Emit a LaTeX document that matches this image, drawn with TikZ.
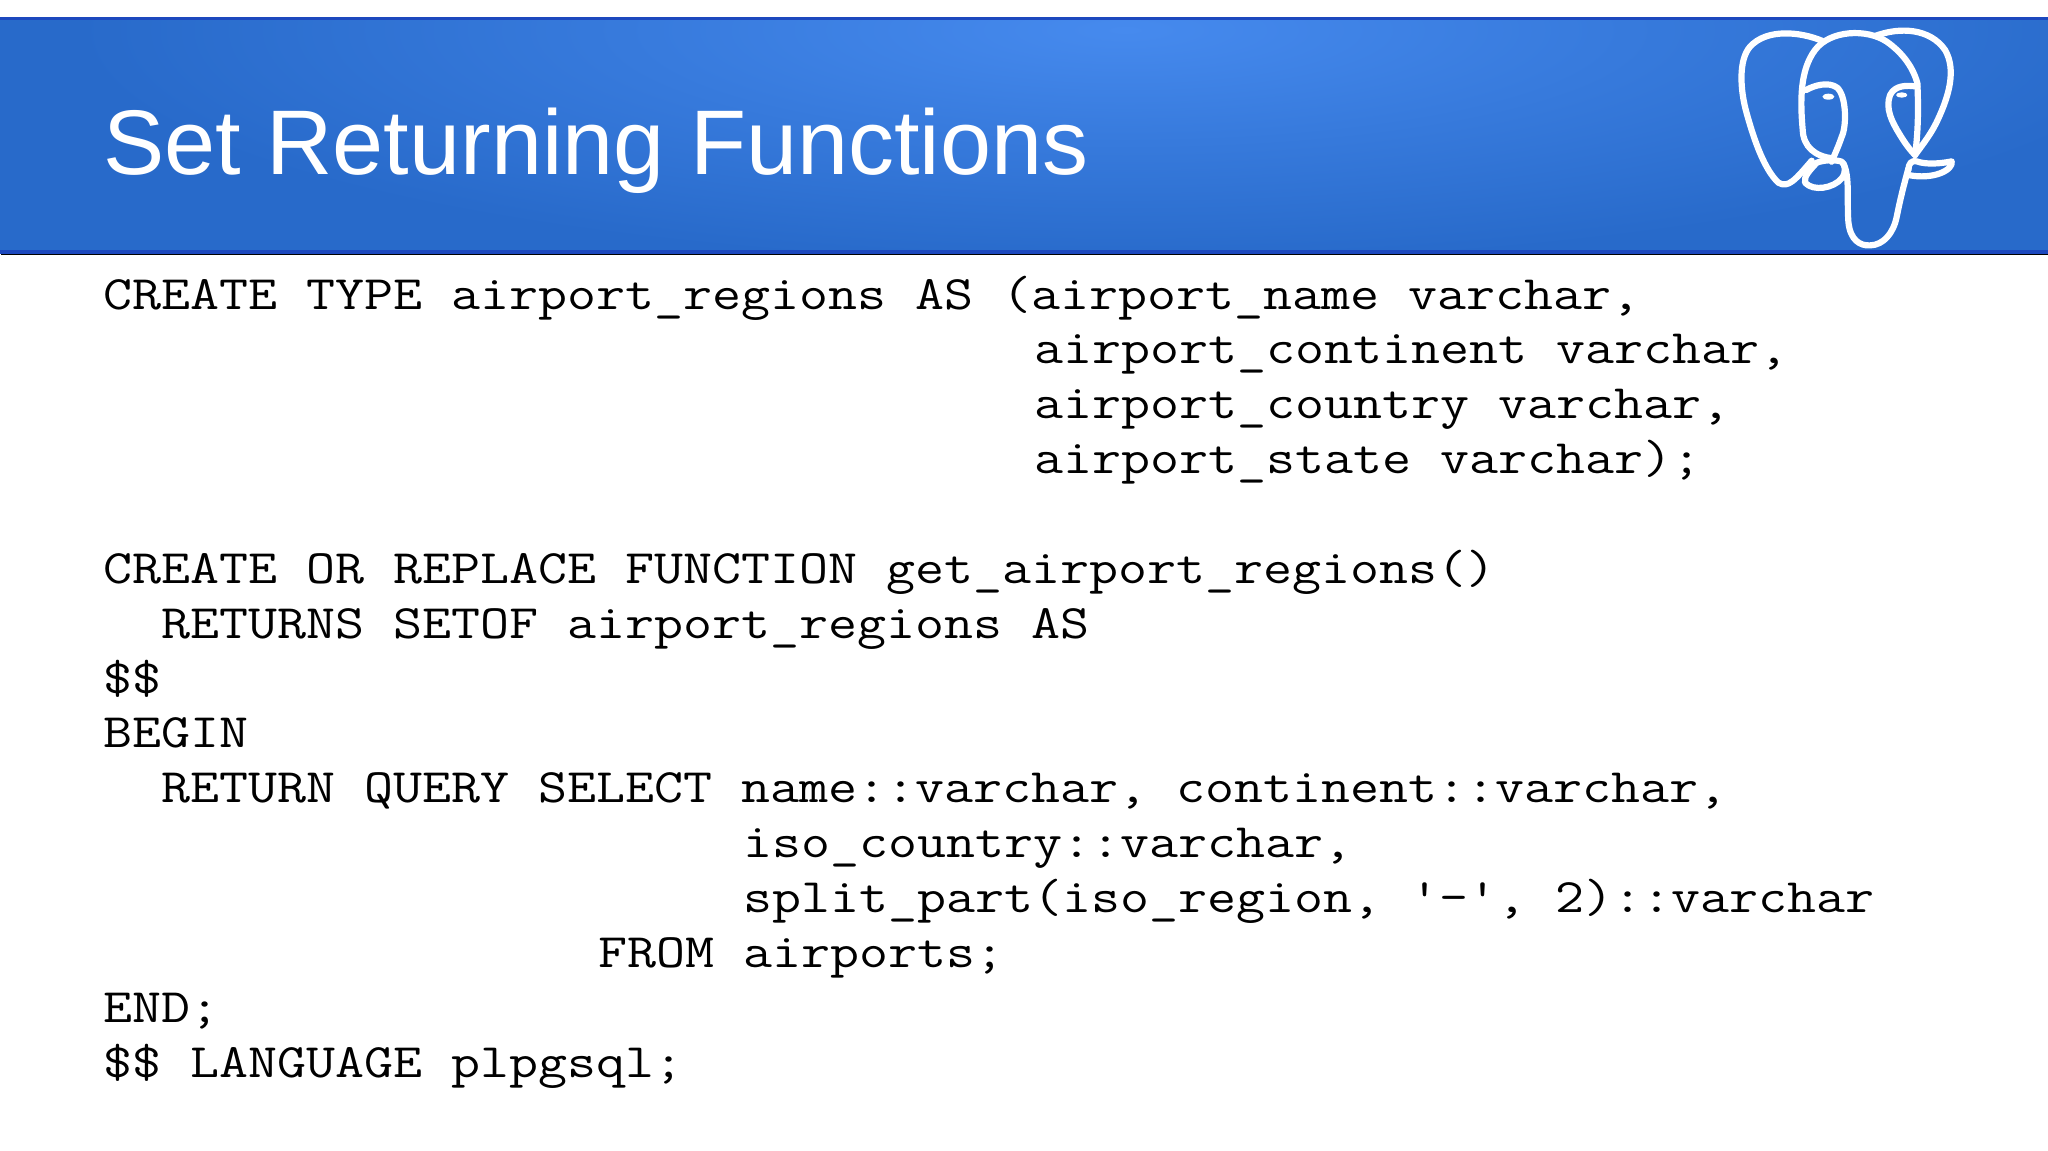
\documentclass[tikz,border=0pt]{standalone}
\usepackage{fontspec}
\setmainfont{Liberation Sans}
\setmonofont[FakeStretch=1.173]{Latin Modern Mono}
\usepackage{xcolor}
\definecolor{bannerout}{RGB}{40, 106, 202}
\definecolor{bannerin}{RGB}{70, 138, 238}
\definecolor{bannerline}{RGB}{28, 72, 190}
\pgfdeclareradialshading{bannerglow}{\pgfpoint{0bp}{0bp}}{color(0bp)=(bannerin); color(12bp)=(bannerout!50!bannerin); color(25bp)=(bannerout); color(100bp)=(bannerout)}
\tikzset{
	codeline/.style={anchor=base west, inner sep=0pt, font=\fontsize{24}{24}\selectfont\ttfamily, text=black},
	titletext/.style={anchor=base west, inner sep=0pt, font=\fontsize{45.9}{45.9}\selectfont, text=white},
	logoline/.style={white, line width=3.1pt, line cap=round, line join=round}
}

\begin{document}
\begin{tikzpicture}[x=0.5pt, y=-0.5pt]
	\useasboundingbox (0,0) rectangle (2048,1150);
	\fill[white] (0,0) rectangle (2048,1150);
	% banner
	\fill[bannerout] (0,18) rectangle (2048,254);
	\begin{scope}
		\clip (0,18) rectangle (2048,254);
		\shade[shading=bannerglow] (1125,30) ellipse (1050 and 235);
	\end{scope}
	\fill[bannerline] (0,17) rectangle (2048,20);
	\fill[bannerline] (0,250) rectangle (2048,254);
	\draw[black, line width=0.7pt] (1,254.5) -- (2048,254.5);
	\node[titletext] (title) at (103,175) {Set Returning Functions};
	% elephant
	\begin{scope}[shift={(1700,0)}, x=0.1667pt, y=-0.1667pt, logoline]
		\draw (365,122) .. controls (300,95) and (200,85) .. (150,140) .. controls (115,180) and (120,270) .. (140,340) .. controls (165,430) and (195,510) .. (235,548) .. controls (265,565) and (285,540) .. (335,482);
		\draw (525,108) .. controls (600,80) and (690,85) .. (735,150) .. controls (770,210) and (745,290) .. (715,355) .. controls (695,400) and (670,430) .. (645,465);
		\draw (400,475) .. controls (345,470) and (310,440) .. (308,390) .. controls (300,300) and (300,210) .. (345,150) .. controls (390,90) and (500,85) .. (560,125) .. controls (610,160) and (640,205) .. (652,250) .. controls (655,320) and (655,390) .. (645,465);
		\draw (318,270) .. controls (345,255) and (385,245) .. (410,262) .. controls (440,285) and (440,380) .. (425,410) .. controls (415,440) and (405,460) .. (395,485);
		\draw (652,260) .. controls (620,255) and (585,255) .. (570,285) .. controls (555,325) and (575,365) .. (600,405) .. controls (615,430) and (630,450) .. (645,465);
		\draw (350,488) .. controls (330,510) and (310,530) .. (315,548) .. controls (340,575) and (400,565) .. (425,535) .. controls (440,515) and (435,495) .. (425,485) .. controls (405,478) and (370,480) .. (350,488);
		\draw (430,490) .. controls (450,530) and (440,600) .. (445,665) .. controls (450,720) and (480,738) .. (510,736) .. controls (550,735) and (580,700) .. (590,650) .. controls (600,600) and (610,560) .. (625,505);
		\draw (625,510) .. controls (625,490) and (635,480) .. (650,484) .. controls (680,495) and (725,490) .. (755,484) .. controls (760,510) and (700,540) .. (625,525);
		\fill (385,290) ellipse (18 and 9);
		\fill (605,285) ellipse (17 and 8);
	\end{scope}
	% code lines
	\node[codeline] (type) at (103,309) {CREATE TYPE airport\_regions AS (airport\_name varchar,};
	\node[codeline] (continent) at (1034.5,363.9) {airport\_continent varchar,};
	\node[codeline] (country) at (1034.5,418.7) {airport\_country varchar,};
	\node[codeline] (state) at (1034.5,473.6) {airport\_state varchar);};
	\node[codeline] (func) at (103,583.3) {CREATE OR REPLACE FUNCTION get\_airport\_regions()};
	\node[codeline] (returns) at (161,638.1) {RETURNS SETOF airport\_regions AS};
	\node[codeline] (open) at (103,693) {\$\$};
	\node[codeline] (begin) at (103,747.9) {BEGIN};
	\node[codeline] (query) at (161,802.7) {RETURN QUERY SELECT name::varchar, continent::varchar,};
	\node[codeline] (iso) at (743.5,857.6) {iso\_country::varchar,};
	\node[codeline] (split) at (743.5,912.4) {split\_part(iso\_region, '-', 2)::varchar};
	\node[codeline] (from) at (598,967.3) {FROM airports;};
	\node[codeline] (end) at (103,1022.1) {END;};
	\node[codeline] (close) at (103,1077) {\$\$ LANGUAGE plpgsql;};
\end{tikzpicture}
\end{document}
